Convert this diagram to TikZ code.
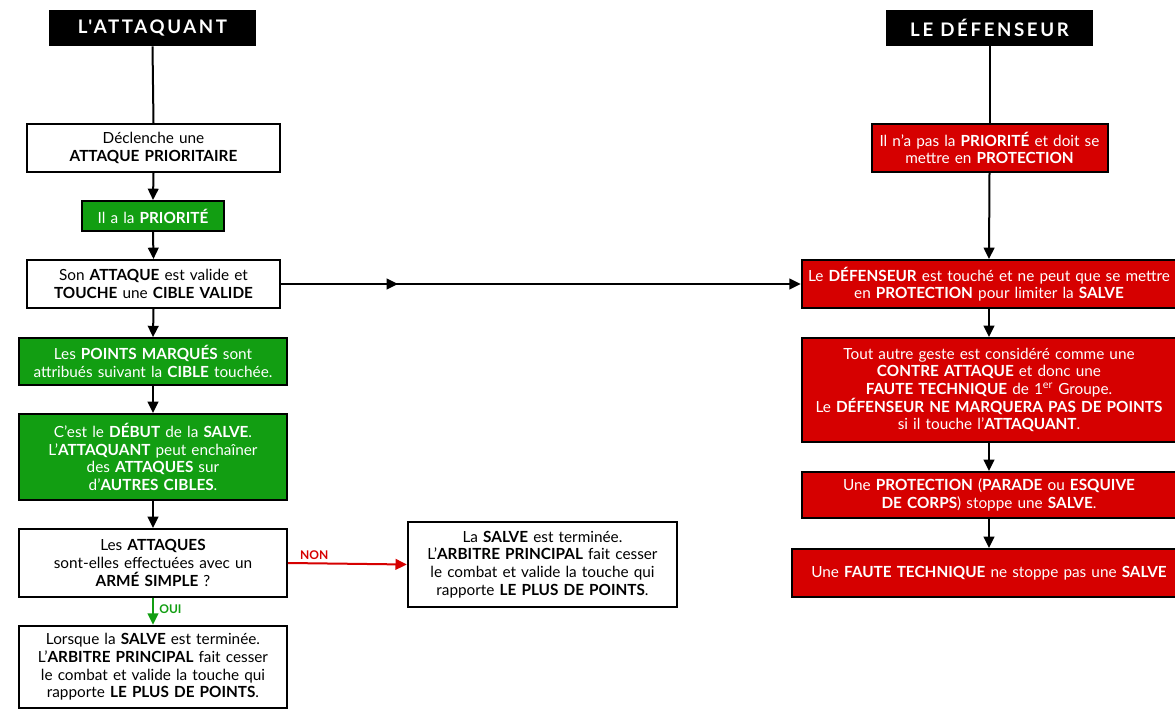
\documentclass[tikz,border=0pt]{standalone}
\usepackage{fontspec}
\setmainfont{Lato}
\newfontfamily\headfont[LetterSpace=14]{Lato}
\usetikzlibrary{arrows.meta,decorations.markings}
\definecolor{boxgreen}{RGB}{18,158,18}
\definecolor{boxred}{RGB}{214,0,0}
\begin{document}
\begin{tikzpicture}[x=0.75pt,y=-0.75pt,
  every node/.style={inner sep=0pt,align=center,font=\fontsize{11.5}{13.2}\selectfont},
  base/.style={draw=black,line width=1.5pt,text width=#1},
  whitebox/.style={base=#1,fill=white,text=black},
  greenbox/.style={base=#1,fill=boxgreen,text=white},
  redbox/.style={base=#1,fill=boxred,text=white},
  headbox/.style={fill=black,text=white,minimum width=155pt,minimum height=27pt,font=\headfont\bfseries\fontsize{14}{16}\selectfont},
  conn/.style={line width=1.5pt,draw=black},
  arr/.style={conn,-{Triangle[length=8.5pt,width=8pt]}},
  lbl/.style={font=\bfseries\fontsize{9}{10}\selectfont}
]
\useasboundingbox (0,0) rectangle (1175,709);
% headers
\node[headbox] (h1) at (152.5,28) {L'ATTAQUANT};
\node[headbox] (h2) at (989.5,28) {LE DÉFENSEUR};
% left column
\node[whitebox=190pt,minimum height=36pt] (b1) at (153.5,148) {Déclenche une\\\textbf{ATTAQUE PRIORITAIRE}};
\node[greenbox=106pt,minimum height=22.5pt] (b2) at (153,216) {Il a la \textbf{PRIORITÉ}};
\node[whitebox=190pt,minimum height=36pt] (b3) at (153.5,284) {Son \textbf{ATTAQUE} est valide et\\\textbf{TOUCHE} une \textbf{CIBLE VALIDE}};
\node[greenbox=201pt,minimum height=35pt] (b4) at (153,361.5) {Les \textbf{POINTS MARQUÉS} sont\\attribués suivant la \textbf{CIBLE} touchée.};
\node[greenbox=201pt,minimum height=64.5pt] (b5) at (153,457) {C'est le \textbf{DÉBUT} de la \textbf{SALVE}.\\L'\textbf{ATTAQUANT} peut enchaîner\\des \textbf{ATTAQUES} sur\\d'\textbf{AUTRES CIBLES}.};
\node[whitebox=201pt,minimum height=51pt] (b6) at (153,563) {Les \textbf{ATTAQUES}\\sont-elles effectuées avec un\\\textbf{ARMÉ SIMPLE} ?};
\node[whitebox=201pt,minimum height=62pt] (b7) at (153,667) {Lorsque la \textbf{SALVE} est terminée.\\L'\textbf{ARBITRE PRINCIPAL} fait cesser\\le combat et valide la touche qui\\rapporte \textbf{LE PLUS DE POINTS}.};
\node[whitebox=202pt,minimum height=64pt] (b8) at (542.5,564.5) {La \textbf{SALVE} est terminée.\\L'\textbf{ARBITRE PRINCIPAL} fait cesser\\le combat et valide la touche qui\\rapporte \textbf{LE PLUS DE POINTS}.};
% right column
\node[redbox=177pt,minimum height=36pt] (r1) at (989.5,148) {Il n'a pas la \textbf{PRIORITÉ} et doit se\\mettre en \textbf{PROTECTION}};
\node[redbox=281pt,minimum height=36pt] (r2) at (989,284) {Le \textbf{DÉFENSEUR} est touché et ne peut que se mettre\\en \textbf{PROTECTION} pour limiter la \textbf{SALVE}};
\node[redbox=281pt,minimum height=78pt] (r3) at (989,390) {Tout autre geste est considéré comme une\\\textbf{CONTRE ATTAQUE} et donc une\\\textbf{FAUTE TECHNIQUE} de 1\textsuperscript{er} Groupe.\\Le \textbf{DÉFENSEUR NE MARQUERA PAS DE POINTS}\\si il touche l'\textbf{ATTAQUANT}.};
\node[redbox=281pt,minimum height=34.5pt] (r4) at (989,495) {Une \textbf{PROTECTION} (\textbf{PARADE} ou \textbf{ESQUIVE}\\\textbf{DE CORPS}) stoppe une \textbf{SALVE}.};
\node[redbox=295pt,minimum height=36pt] (r5) at (989,573) {Une \textbf{FAUTE TECHNIQUE} ne stoppe pas une \textbf{SALVE}};
% connectors left
\draw[conn] (h1.south) -- (b1.north);
\draw[arr] (b1.south) -- (b2.north);
\draw[arr] (b2.south) -- (b3.north);
\draw[arr] (b3.south) -- (b4.north);
\draw[arr] (b4.south) -- (b5.north);
\draw[arr] (b5.south) -- (b6.north);
\draw[arr,draw=boxgreen,fill=boxgreen] (b6.south) -- node[lbl,text=boxgreen,anchor=west,xshift=4pt,yshift=2pt]{OUI} (b7.north);
\draw[arr,draw=boxred,fill=boxred] (b6.east) -- node[lbl,text=boxred,anchor=south,pos=0.22,yshift=2pt]{NON} (b8.west);
% connectors right
\draw[conn] (h2.south) -- (r1.north);
\draw[arr] (r1.south) -- (r2.north);
\draw[arr] (r2.south) -- (r3.north);
\draw[arr] (r3.south) -- (r4.north);
\draw[arr] (r4.south) -- (r5.north);
% cross connector
\draw[arr,postaction={decorate},decoration={markings,mark=at position 0.225 with {\arrow{Triangle[length=8.5pt,width=8pt]}}}] (b3.east) -- (r2.west);
\end{tikzpicture}
\end{document}
